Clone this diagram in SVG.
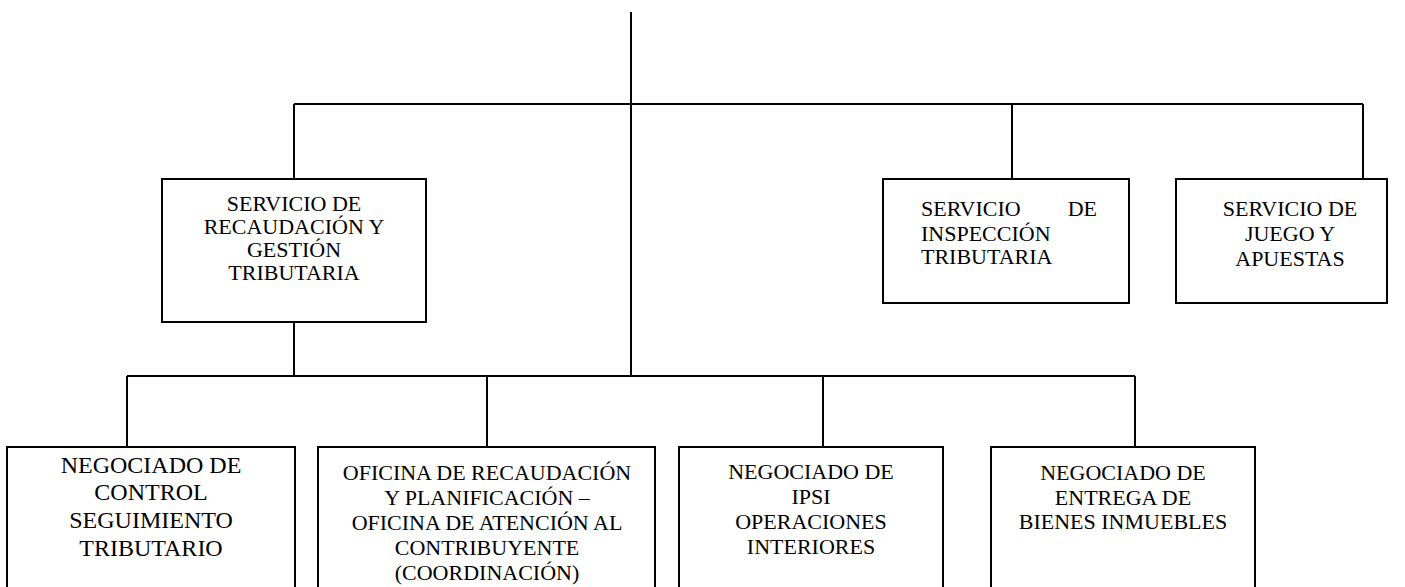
<svg xmlns="http://www.w3.org/2000/svg" width="1405" height="587" viewBox="0 0 1405 587">
<style>
.ln{stroke:#000;stroke-width:2;fill:none}
.bx{stroke:#000;stroke-width:2;fill:#fff}
text{font-family:'Liberation Serif','DejaVu Serif','Noto Serif',serif;fill:#000}
.t{font-size:22px;text-anchor:middle}
.tl{font-size:22px}
.tb{font-size:24px;text-anchor:middle}
</style>
<rect width="1405" height="587" fill="#fff"/>
<g id="connectors">
<path class="ln" d="M631 12V376"/>
<path class="ln" d="M294 104H1363"/>
<path class="ln" d="M294 104V179M1012 104V179M1363 104V179"/>
<path class="ln" d="M294 322V376"/>
<path class="ln" d="M127 376H1135"/>
<path class="ln" d="M127 376V447M487 376V447M823 376V447M1135 376V447"/>
</g>
<g id="servicio-recaudacion">
<rect class="bx" x="162" y="179" width="264" height="143"/>
<text class="t" x="294" y="211">SERVICIO DE</text>
<text class="t" x="294" y="234">RECAUDACIÓN Y</text>
<text class="t" x="294" y="257">GESTIÓN</text>
<text class="t" x="294" y="280">TRIBUTARIA</text>
</g>
<g id="servicio-inspeccion">
<rect class="bx" x="883" y="179" width="246" height="124"/>
<text class="tl" x="921" y="216">SERVICIO</text>
<text class="tl" x="1097" y="216" text-anchor="end">DE</text>
<text class="tl" x="921" y="241">INSPECCIÓN</text>
<text class="tl" x="921" y="264">TRIBUTARIA</text>
</g>
<g id="servicio-juego">
<rect class="bx" x="1176" y="179" width="211" height="124"/>
<text class="t" x="1290" y="216">SERVICIO DE</text>
<text class="t" x="1290" y="241">JUEGO Y</text>
<text class="t" x="1290" y="266">APUESTAS</text>
</g>
<g id="negociado-control">
<rect class="bx" x="7" y="447" width="288" height="160"/>
<text class="tb" x="151" y="473">NEGOCIADO DE</text>
<text class="tb" x="151" y="500">CONTROL</text>
<text class="tb" x="151" y="528">SEGUIMIENTO</text>
<text class="tb" x="151" y="556">TRIBUTARIO</text>
</g>
<g id="oficina-recaudacion">
<rect class="bx" x="318" y="447" width="337" height="160"/>
<text class="t" x="487" y="480">OFICINA DE RECAUDACIÓN</text>
<text class="t" x="487" y="505">Y PLANIFICACIÓN –</text>
<text class="t" x="487" y="530">OFICINA DE ATENCIÓN AL</text>
<text class="t" x="487" y="555">CONTRIBUYENTE</text>
<text class="t" x="487" y="580">(COORDINACIÓN)</text>
</g>
<g id="negociado-ipsi">
<rect class="bx" x="679" y="447" width="264" height="160"/>
<text class="t" x="811" y="479">NEGOCIADO DE</text>
<text class="t" x="811" y="504">IPSI</text>
<text class="t" x="811" y="529">OPERACIONES</text>
<text class="t" x="811" y="554">INTERIORES</text>
</g>
<g id="negociado-entrega">
<rect class="bx" x="991" y="447" width="264" height="160"/>
<text class="t" x="1123" y="480">NEGOCIADO DE</text>
<text class="t" x="1123" y="505">ENTREGA DE</text>
<text class="t" x="1123" y="529">BIENES INMUEBLES</text>
</g>
</svg>
